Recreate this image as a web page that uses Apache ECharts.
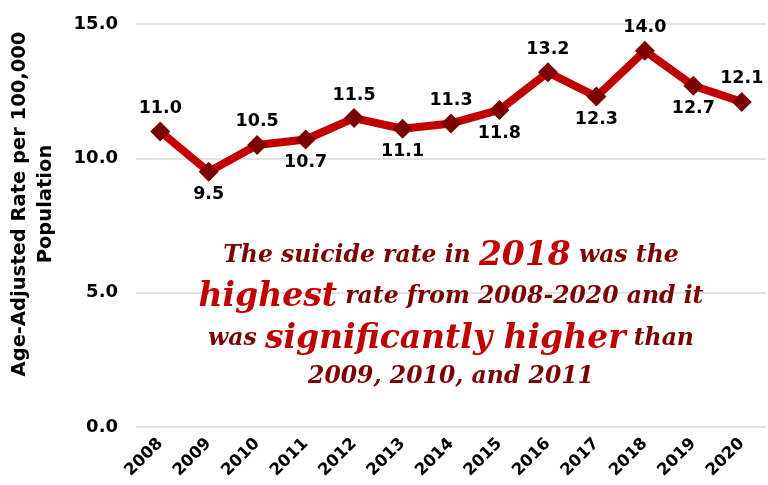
<!DOCTYPE html>
<html><head><meta charset="utf-8">
<script src="https://cdn.jsdelivr.net/npm/echarts@6/dist/echarts.min.js"></script>
<style>html,body{margin:0;padding:0;background:#fff}#c{width:768px;height:485px}</style>
</head><body><div id="c"></div>
<script>
const years = ['2008','2009','2010','2011','2012','2013','2014','2015','2016','2017','2018','2019','2020'];
const rates = [11.0, 9.5, 10.5, 10.7, 11.5, 11.1, 11.3, 11.8, 13.2, 12.3, 14.0, 12.7, 12.1];
const labelPos = ['top','bottom','top','bottom','top','bottom','top','bottom','top','bottom','top','bottom','top'];
const yTitle = 'Age-Adjusted Rate per 100,000\nPopulation';
const noteLines = [
  '{n|The suicide rate in }{b|2018}{n| was the}',
  '{b|highest}{n| rate from 2008-2020 and it}',
  '{n|was }{b|significantly higher}{n| than}',
  '{n|2009, 2010, and 2011}'
];

const chart = echarts.init(document.getElementById('c'));
const sans = '"DejaVu Sans", Verdana, sans-serif';
const serif = '"DejaVu Serif", Georgia, serif';
const dark = '#7b0000', bright = '#c00000';
const rich = {
  n: {fontFamily: serif, fontStyle: 'italic', fontWeight: 'bold', fontSize: 23.5, fill: dark},
  b: {fontFamily: serif, fontStyle: 'italic', fontWeight: 'bold', fontSize: 33, fill: bright}
};
const noteY = [256, 297, 339, 377];
const graphics = noteLines.map((s,i)=>({type:'text', x:451, y:noteY[i], z:10,
    style:{text:s, rich:rich, align:'center', verticalAlign:'middle'}}));
graphics.push({type:'text', x:33, y:204, rotation:Math.PI/2, z:10,
  style:{text:yTitle, align:'center', verticalAlign:'middle', fontFamily:sans, fontWeight:'bold',
    fontSize:19.5, lineHeight:26, fill:'#000'}});
chart.setOption({
  animation:false,
  grid:{left:136, right:2, top:24, bottom:58},
  xAxis:{type:'category', data:years, boundaryGap:true,
    axisLine:{show:false}, axisTick:{show:false},
    axisLabel:{rotate:45, interval:0, fontFamily:sans, fontWeight:'bold', fontSize:16.5, color:'#000', margin:14}},
  yAxis:{type:'value', min:0, max:15, interval:5,
    axisLine:{show:false}, axisTick:{show:false},
    splitLine:{lineStyle:{color:'#d9d9d9', width:1.5}},
    axisLabel:{formatter:v=>v.toFixed(1), fontFamily:sans, fontWeight:'bold', fontSize:18, color:'#000', margin:18}},
  series:[{type:'line', data:rates.map((v,i)=>({value:v, label:{position:labelPos[i]}})),
    lineStyle:{color:'#c00000', width:8},
    symbol:'diamond', symbolSize:20,
    itemStyle:{color:'#7b0000'},
    label:{show:true, formatter:p=>p.value.toFixed(1), fontFamily:sans, fontWeight:'bold', fontSize:17.5, color:'#000', distance:4}
  }],
  graphic: graphics
});
</script></body></html>
